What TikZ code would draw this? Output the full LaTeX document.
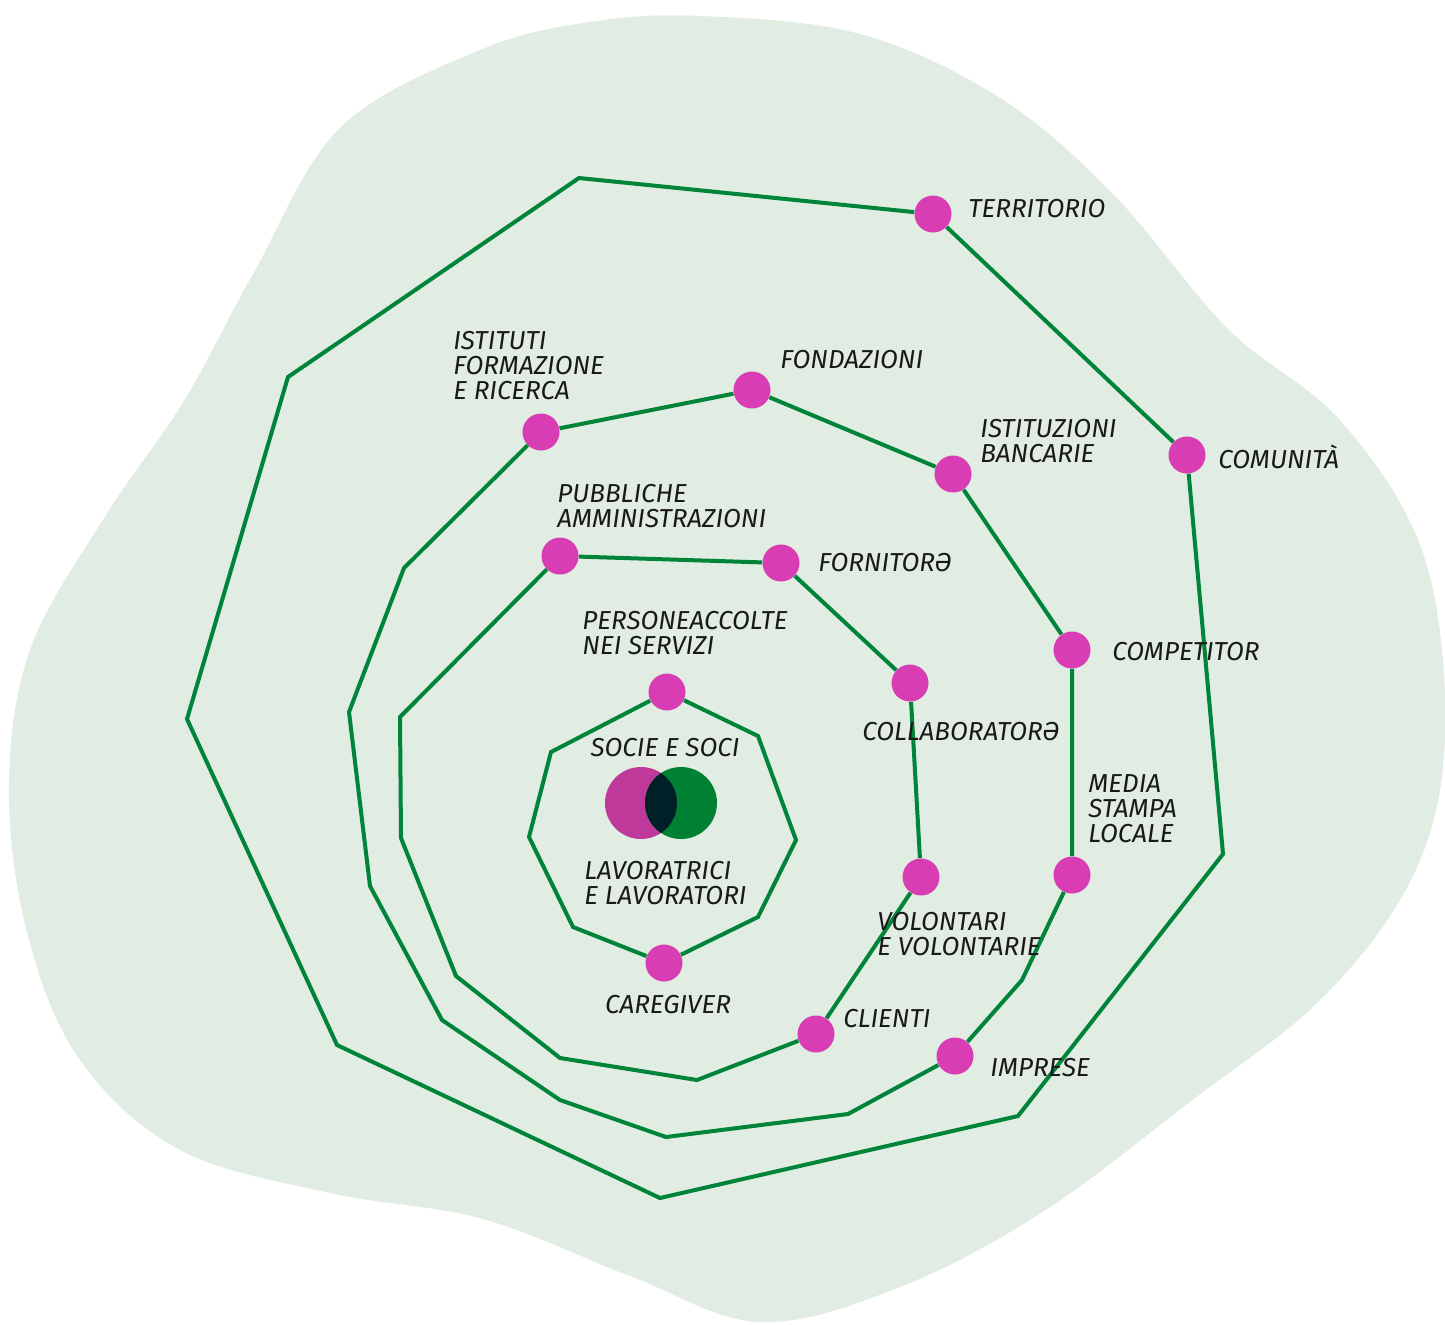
\documentclass[tikz,border=0pt]{standalone}
\usepackage{fontspec}
\setsansfont{Fira Sans}
\definecolor{blobgreen}{RGB}{225,236,226}
\definecolor{ringgreen}{RGB}{0,132,58}
\definecolor{dotpink}{RGB}{217,61,179}
\definecolor{vennpink}{RGB}{191,57,155}
\definecolor{venngreen}{RGB}{0,128,50}
\definecolor{venndark}{RGB}{0,32,40}
\newcommand\labelfont{\fontsize{13}{12.5}\selectfont\sffamily\itshape}
\begin{document}
\begin{tikzpicture}[x=0.5pt,y=-0.5pt,
    ring/.style={draw=ringgreen, line width=2pt},
    dot/.style={circle, fill=dotpink, minimum size=18.5pt, inner sep=0pt},
    venn/.style={circle, minimum size=36pt, inner sep=0pt},
    lbl/.style={anchor=west, inner sep=0pt, align=left, text=black!90, font=\labelfont}]
    \useasboundingbox (0,0) rectangle (1445,1324);
    \fill[blobgreen] plot[smooth cycle, tension=0.6] coordinates {(700,16) (860,34) (1000,98)
        (1113,194) (1228,329) (1335,415) (1413,528) (1442,650) (1440,790) (1400,900)
        (1315,1005) (1195,1098) (1044,1211) (900,1287) (760,1322) (630,1276) (483,1219)
        (330,1193) (180,1150) (80,1060) (28,936) (9,790) (30,650) (106,515) (184,401)
        (253,274) (340,128) (480,50) (590,22)};

    \node[dot] (territorio) at (933,214) {};
    \node[dot] (comunita) at (1187,455) {};
    \node[dot] (fondazioni) at (752,390) {};
    \node[dot] (istituti) at (541,432) {};
    \node[dot] (bancarie) at (953,474) {};
    \node[dot] (competitor) at (1072,650) {};
    \node[dot] (media) at (1072,875) {};
    \node[dot] (imprese) at (955,1056) {};
    \node[dot] (pubbliche) at (560,556) {};
    \node[dot] (fornitore) at (781,563) {};
    \node[dot] (collab) at (910,683) {};
    \node[dot] (volontari) at (921,877) {};
    \node[dot] (clienti) at (816,1034) {};
    \node[dot] (persone) at (667,692) {};
    \node[dot] (caregiver) at (664,963) {};

    \coordinate (o1) at (579,178);
    \coordinate (o2) at (1223,854);
    \coordinate (o3) at (1018,1116);
    \coordinate (o4) at (660,1198);
    \coordinate (o5) at (337,1045);
    \coordinate (o6) at (187,719);
    \coordinate (o7) at (288,377);
    \draw[ring] (comunita) -- (o2) -- (o3) -- (o4) -- (o5) -- (o6) -- (o7) -- (o1) -- (territorio) -- (comunita);

    \coordinate (m1) at (1022,980);
    \coordinate (m2) at (848,1114);
    \coordinate (m3) at (666,1137);
    \coordinate (m4) at (560,1100);
    \coordinate (m5) at (442,1020);
    \coordinate (m6) at (370,886);
    \coordinate (m7) at (349,712);
    \coordinate (m8) at (404,568);
    \draw[ring] (bancarie) -- (competitor) -- (media) -- (m1) -- (imprese) -- (m2) -- (m3) -- (m4) -- (m5) -- (m6) -- (m7) -- (m8) -- (istituti) -- (fondazioni) -- (bancarie);

    \coordinate (n1) at (697,1080);
    \coordinate (n2) at (560,1058);
    \coordinate (n3) at (456,976);
    \coordinate (n4) at (401,838);
    \coordinate (n5) at (400,717);
    \draw[ring] (pubbliche) -- (fornitore) -- (collab) -- (volontari) -- (clienti) -- (n1) -- (n2) -- (n3) -- (n4) -- (n5) -- (pubbliche);

    \coordinate (i1) at (758,736);
    \coordinate (i2) at (796,840);
    \coordinate (i3) at (758,917);
    \coordinate (i4) at (573,927);
    \coordinate (i5) at (529,837);
    \coordinate (i6) at (551,752);
    \draw[ring] (persone) -- (i1) -- (i2) -- (i3) -- (caregiver) -- (i4) -- (i5) -- (i6) -- (persone);

    \node[venn, fill=vennpink] (soci) at (641,803) {};
    \node[venn, fill=venngreen] (lavoratori) at (681,803) {};
    \begin{scope}
        \clip (soci.center) circle (36);
        \fill[venndark] (lavoratori.center) circle (36);
    \end{scope}

    \node[lbl] (lterritorio) at (968,209) {TERRITORIO};
    \node[lbl] (lcomunita) at (1218,457) {COMUNITÀ};
    \node[lbl] (lfondazioni) at (780,360) {FONDAZIONI};
    \node[lbl] (listituti) at (453,366) {ISTITUTI\\FORMAZIONE\\E RICERCA};
    \node[lbl] (lbancarie) at (980,441) {ISTITUZIONI\\BANCARIE};
    \node[lbl] (lpubbliche) at (557,506) {PUBBLICHE\\AMMINISTRAZIONI};
    \node[lbl] (lfornitore) at (818,563) {FORNITORƏ};
    \node[lbl] (lcompetitor) at (1112,652) {COMPETITOR};
    \node[lbl] (lcollab) at (862,732) {COLLABORATORƏ};
    \node[lbl] (lmedia) at (1088,809) {MEDIA\\STAMPA\\LOCALE};
    \node[lbl] (lvolontari) at (877,934) {VOLONTARI\\E VOLONTARIE};
    \node[lbl] (lclienti) at (843,1019) {CLIENTI};
    \node[lbl] (limprese) at (990,1068) {IMPRESE};
    \node[lbl] (lpersone) at (582,633) {PERSONEACCOLTE\\NEI SERVIZI};
    \node[lbl, anchor=center] (lsoci) at (665,748) {SOCIE E SOCI};
    \node[lbl] (llavoratori) at (584,883) {LAVORATRICI\\E LAVORATORI};
    \node[lbl, anchor=center] (lcaregiver) at (668,1005) {CAREGIVER};
\end{tikzpicture}
\end{document}
